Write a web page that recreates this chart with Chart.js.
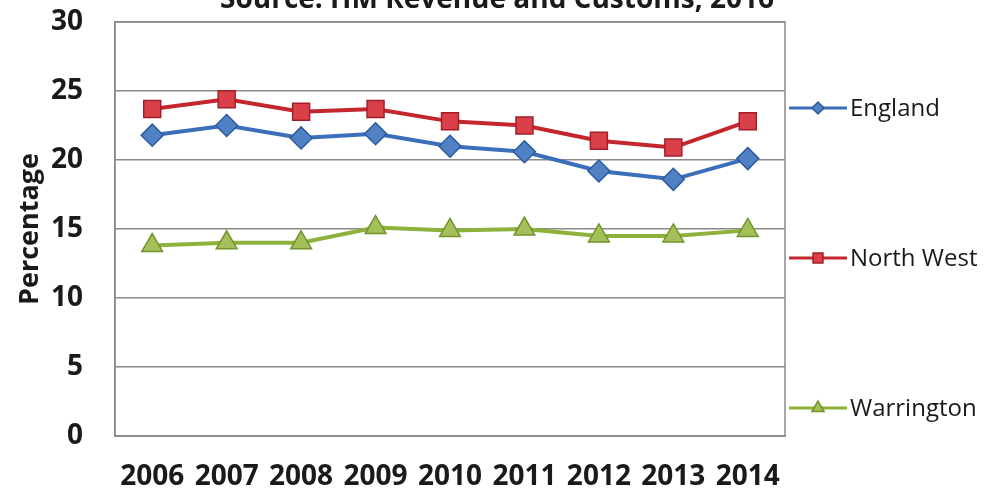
<!DOCTYPE html>
<html>
<head>
<meta charset="utf-8">
<script src="https://cdn.jsdelivr.net/npm/chart.js@4/dist/chart.umd.min.js"></script>
<style>
  html, body { margin: 0; padding: 0; background: #fff; }
  #wrap { width: 999px; height: 493px; position: relative; }
</style>
</head>
<body>
<div id="wrap"><canvas id="chart"></canvas></div>
<script>
const years = ['2006', '2007', '2008', '2009', '2010', '2011', '2012', '2013', '2014'];
const england = [21.8, 22.5, 21.6, 21.9, 21.0, 20.6, 19.2, 18.6, 20.1];
const northWest = [23.7, 24.4, 23.5, 23.7, 22.8, 22.5, 21.4, 20.9, 22.8];
const warrington = [13.8, 14.0, 14.0, 15.1, 14.9, 15.0, 14.5, 14.5, 14.9];
const yTicks = [0, 5, 10, 15, 20, 25, 30];

const FONT = '"Open Sans", "DejaVu Sans", sans-serif';

const series = [
  { label: 'England', data: england, line: '#3c6fba', fill: '#4f81c4', edge: '#2c5a9c', style: 'rectRot', r: 11, lr: 6 },
  { label: 'North West', data: northWest, line: '#c4262e', fill: '#d9404a', edge: '#a31f27', style: 'rect', r: 12, lr: 7 },
  { label: 'Warrington', data: warrington, line: '#8db13a', fill: '#a3c05a', edge: '#73942b', style: 'triangle', r: 12, lr: 7 },
];

// title cut off at the top, plot frame, legend spread down the right side
const extras = {
  id: 'extras',
  afterDraw(chart) {
    const { ctx, chartArea: a } = chart;
    ctx.save();
    ctx.strokeStyle = '#8a8a8a';
    ctx.lineWidth = 1.5;
    ctx.strokeRect(a.left, a.top, a.right - a.left, a.bottom - a.top);

    ctx.fillStyle = '#1a1a1a';
    ctx.font = 'bold 28px ' + FONT;
    ctx.textAlign = 'center';
    ctx.textBaseline = 'alphabetic';
    ctx.fillText('Source: HM Revenue and Customs, 2016', 497, 8);

    const ys = [108, 258, 408];
    series.forEach((s, i) => {
      const y = ys[i];
      ctx.strokeStyle = s.line;
      ctx.lineWidth = 3;
      ctx.beginPath();
      ctx.moveTo(a.right + 4, y);
      ctx.lineTo(a.right + 62, y);
      ctx.stroke();
      ctx.fillStyle = s.fill;
      ctx.strokeStyle = s.edge;
      ctx.lineWidth = 1.5;
      Chart.helpers.drawPoint(ctx, { pointStyle: s.style, radius: s.lr, borderWidth: 1.5 }, a.right + 33, y);
      ctx.fillStyle = '#1a1a1a';
      ctx.font = '24px ' + FONT;
      ctx.textAlign = 'left';
      ctx.textBaseline = 'middle';
      ctx.fillText(s.label, a.right + 65, y + 1);
    });
    ctx.restore();
  }
};

new Chart(document.getElementById('chart'), {
  type: 'line',
  data: {
    labels: years,
    datasets: series.map(s => ({
      label: s.label,
      data: s.data,
      borderColor: s.line,
      borderWidth: 4,
      backgroundColor: s.fill,
      pointBackgroundColor: s.fill,
      pointBorderColor: s.edge,
      pointBorderWidth: 1.5,
      pointStyle: s.style,
      pointRadius: s.r,
      pointHoverRadius: s.r,
      tension: 0,
    })),
  },
  plugins: [extras],
  options: {
    responsive: true, maintainAspectRatio: false, animation: false,
    layout: { padding: { left: 0, right: 214, top: 0, bottom: 0 } },
    plugins: { legend: { display: false }, tooltip: { enabled: false } },
    scales: {
      x: {
        offset: true,
        grid: { display: false },
        border: { color: '#8a8a8a', width: 1.5 },
        ticks: { color: '#1a1a1a', font: { family: FONT, size: 28, weight: 'bold' }, padding: 16, maxRotation: 0, autoSkip: false },
        afterFit: s => { s.height = 57; },
      },
      y: {
        min: 0, max: 30,
        afterBuildTicks: s => { s.ticks = yTicks.map(v => ({ value: v })); },
        grid: { color: '#8a8a8a', lineWidth: 1.5, drawTicks: false },
        border: { color: '#8a8a8a', width: 1.5 },
        ticks: { color: '#1a1a1a', font: { family: FONT, size: 28, weight: 'bold' }, padding: 32 },
        title: { display: true, text: 'Percentage', color: '#1a1a1a', font: { family: FONT, size: 27, weight: 'bold' }, padding: { top: 14, bottom: 0 } },
        afterFit: s => { s.width = 115; s.paddingTop = 22; s.paddingBottom = 0; },
      },
    },
  },
});
</script>
</body>
</html>
